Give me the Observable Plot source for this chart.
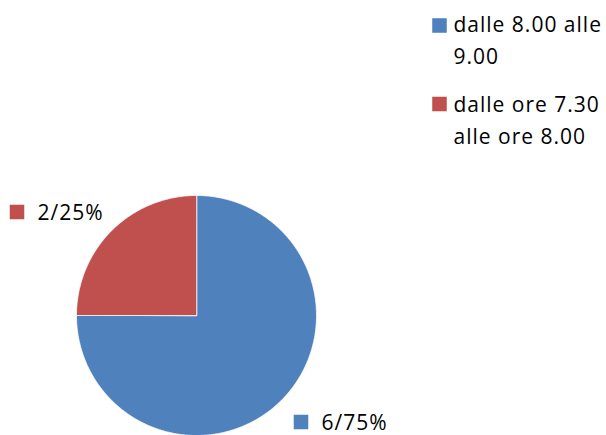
<!DOCTYPE html>
<html><head><meta charset="utf-8">
<script src="https://cdn.jsdelivr.net/npm/d3@7"></script>
<script src="https://cdn.jsdelivr.net/npm/@observablehq/plot@0.6"></script>
<style>body{margin:0;background:#fff} svg{display:block} svg text{letter-spacing:1px}</style>
</head><body><div id="chart"></div>
<script>
const categories = ["dalle 8.00 alle 9.00", "dalle ore 7.30 alle ore 8.00"];
const counts = [6, 2];
const colors = ["#4F81BD", "#C0504D"];

const W = 606, H = 435;
const cx = 196, cy = 315, R = 120;
const total = d3.sum(counts);
const pie = d3.pie().sort(null).value(d => d.count)(
  categories.map((c, i) => ({category: c, count: counts[i]}))
);

// polygon points for each slice (angles from 12 o'clock, clockwise)
const slicePts = [];
pie.forEach(p => {
  slicePts.push({category: p.data.category, x: cx, y: cy});
  const n = Math.max(2, Math.ceil((p.endAngle - p.startAngle) / 0.01));
  for (let k = 0; k <= n; k++) {
    const a = p.startAngle + (p.endAngle - p.startAngle) * k / n;
    slicePts.push({category: p.data.category, x: cx + R * Math.sin(a), y: cy - R * Math.cos(a)});
  }
});

const labelData = pie.map(p => ({
  category: p.data.category,
  text: `${p.data.count}/${Math.round(p.data.count / total * 100)}%`
}));
// label anchor positions (layout)
const labelPos = {
  [categories[0]]: {sx: 300.5, sy: 421.5},
  [categories[1]]: {sx: 16.5, sy: 211.5}
};
const legendPos = {
  [categories[0]]: {sx: 439, sy: 25, ty: 8.8},
  [categories[1]]: {sx: 439, sy: 103.5, ty: 88.5}
};

const fs = 21;
const font = "'Open Sans', sans-serif";
const chart = Plot.plot({
  width: W, height: H, margin: 0,
  style: {fontFamily: font, background: "#fff"},
  x: {domain: [0, W], range: [0, W], axis: null},
  y: {domain: [0, H], range: [0, H], axis: null},
  color: {domain: categories, range: colors},
  marks: [
    Plot.line(slicePts, {x: "x", y: "y", z: "category", fill: "category", stroke: "#fff", strokeWidth: 0.75, curve: "linear-closed"}),
    Plot.dot(labelData, {x: d => labelPos[d.category].sx, y: d => labelPos[d.category].sy, symbol: "square", r: 8.2, fill: "category", stroke: null}),
    Plot.text(labelData, {x: d => labelPos[d.category].sx + 20.5, y: d => labelPos[d.category].sy + 1, text: "text", textAnchor: "start", fontSize: fs, fill: "#000"}),
    Plot.dot(categories, {x: d => legendPos[d].sx, y: d => legendPos[d].sy, symbol: "square", r: 8.2, fill: d => d, stroke: null}),
    Plot.text(categories, {x: d => legendPos[d].sx + 14, y: d => legendPos[d].ty, text: d => d, textAnchor: "start", lineAnchor: "top", lineWidth: 7, lineHeight: 1.52, fontSize: fs, fill: "#000"})
  ]
});
document.getElementById("chart").append(chart);
</script>
</body></html>
